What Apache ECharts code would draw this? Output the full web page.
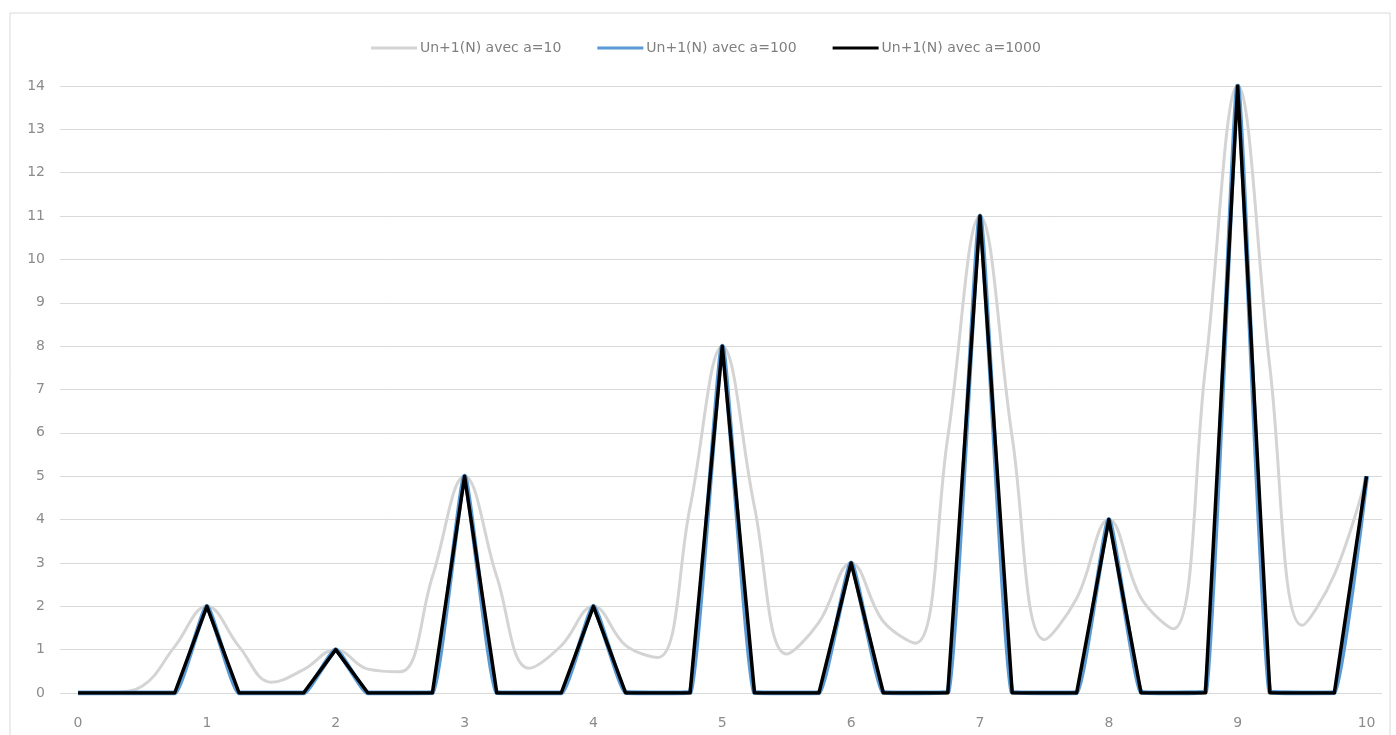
<!DOCTYPE html>
<html>
<head>
<meta charset="utf-8">
<script src="https://cdn.jsdelivr.net/npm/echarts@6/dist/echarts.min.js"></script>
<style>
html,body{margin:0;padding:0;background:#fff;}
#chart{width:1396px;height:735px;}
</style>
</head>
<body>
<div id="chart"></div>
<script>
// x positions (N), step 0.25
var xValues = [0,0.25,0.5,0.75,1,1.25,1.5,1.75,2,2.25,2.5,2.75,3,3.25,3.5,3.75,4,4.25,4.5,4.75,5,5.25,5.5,5.75,6,6.25,6.5,6.75,7,7.25,7.5,7.75,8,8.25,8.5,8.75,9,9.25,9.5,9.75,10];
// Un+1(N) avec a=10
var seriesA10 = [0,0.01,0.16,1.07,2,1.07,0.25,0.54,1,0.55,0.49,2.68,5,2.68,0.57,1.09,2,1.1,0.82,4.29,8,4.29,0.9,1.63,3,1.65,1.15,5.9,11,5.9,1.23,2.18,4,2.19,1.48,7.51,14,7.51,1.56,2.73,5];
// Un+1(N) avec a=100
var seriesA100 = [0,0,0,0,2,0,0,0,1,0,0,0.01,5,0.01,0,0,2,0.02,0,0.02,8,0.02,0,0.01,3,0.02,0,0.02,11,0.02,0,0.01,4,0.03,0,0.03,14,0.03,0,0.01,5];
// Un+1(N) avec a=1000
var seriesA1000 = [0,0,0,0,2,0,0,0,1,0,0,0,5,0,0,0,2,0,0,0,8,0,0,0,3,0,0,0,11,0,0,0,4,0,0,0,14,0,0,0,5];
var seriesNames = ['Un+1(N) avec a=10','Un+1(N) avec a=100','Un+1(N) avec a=1000'];
var xTickLabels = [0,1,2,3,4,5,6,7,8,9,10];
var yTickLabels = [0,1,2,3,4,5,6,7,8,9,10,11,12,13,14];

function pairs(vals){ return xValues.map(function(x,i){ return [x, vals[i]]; }); }

var chart = echarts.init(document.getElementById('chart'), null, {renderer:'canvas'});
var font = 'DejaVu Sans';
var lineIcon = 'path://M0,0 L46,0 L46,3 L0,3 Z';
chart.setOption({
  animation:false,
  backgroundColor:'#fff',
  graphic:[{type:'rect', shape:{x:10,y:13,width:1380,height:740}, style:{fill:null, stroke:'#d9d9d9', lineWidth:1}, silent:true}],
  legend:{
    top:36, left:366,
    itemWidth:46, itemHeight:3, itemGap:36,
    textStyle:{fontFamily:font, fontSize:14, color:'#7f7f7f', padding:[0,0,0,-2]},
    data:[
      {name:seriesNames[0], icon:lineIcon, itemStyle:{color:'#d4d4d4'}},
      {name:seriesNames[1], icon:lineIcon, itemStyle:{color:'#5b9bd5'}},
      {name:seriesNames[2], icon:lineIcon, itemStyle:{color:'#000'}}
    ]
  },
  grid:{left:60, right:14, top:86, bottom:42, containLabel:false},
  xAxis:{
    type:'value', min:-0.14, max:10.12,
    axisLine:{show:false}, axisTick:{show:false}, splitLine:{show:false},
    axisLabel:{customValues:xTickLabels, fontFamily:font, fontSize:14, color:'#8c8c8c', margin:23}
  },
  yAxis:{
    type:'value', min:0, max:14, interval:1,
    axisLine:{show:false}, axisTick:{show:false},
    splitLine:{lineStyle:{color:'#d9d9d9', width:1}},
    axisLabel:{fontFamily:font, fontSize:14, color:'#8c8c8c', margin:15,
      formatter:function(v){ return yTickLabels.indexOf(v) >= 0 ? String(v) : ''; }}
  },
  series:[
    {name:seriesNames[0], type:'line', data:pairs(seriesA10), smooth:0.4, showSymbol:false,
     lineStyle:{color:'#d4d4d4', width:3}, itemStyle:{color:'#d4d4d4'}},
    {name:seriesNames[1], type:'line', data:pairs(seriesA100), smooth:0.12, showSymbol:false,
     lineStyle:{color:'#5b9bd5', width:5, join:'round'}, itemStyle:{color:'#5b9bd5'}},
    {name:seriesNames[2], type:'line', data:pairs(seriesA1000), smooth:false, showSymbol:false,
     lineStyle:{color:'#000000', width:3.5, join:'round'}, itemStyle:{color:'#000'}}
  ]
});
</script>
</body>
</html>
